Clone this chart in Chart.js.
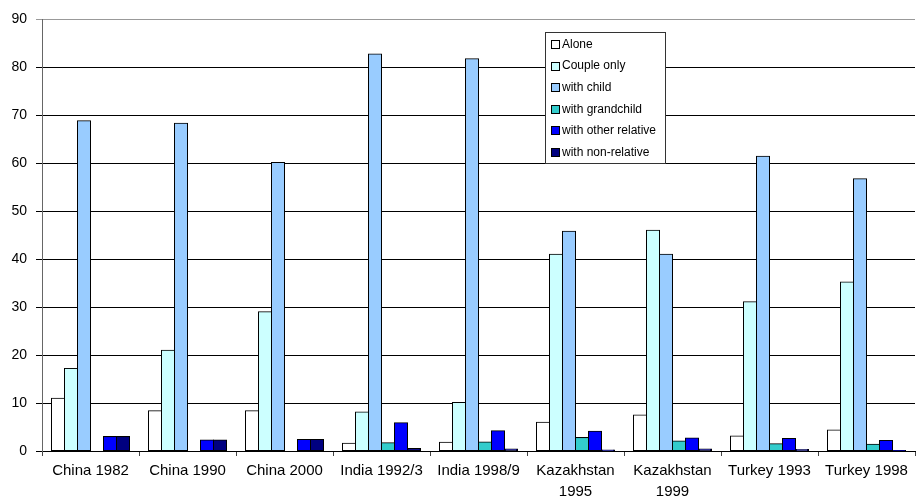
<!DOCTYPE html>
<html>
<head>
<meta charset="utf-8">
<script src="https://cdn.jsdelivr.net/npm/chart.js@4/dist/chart.umd.min.js"></script>
<style>
  html, body { margin: 0; padding: 0; background: #fff; }
  #wrap { width: 916px; height: 502px; position: relative; }
</style>
</head>
<body>
<div id="wrap"><canvas id="c"></canvas></div>
<script>
// Living arrangements of older people (%), by country and survey year
const categories = [
  'China 1982', 'China 1990', 'China 2000', 'India 1992/3', 'India 1998/9',
  ['Kazakhstan', '1995'], ['Kazakhstan', '1999'], 'Turkey 1993', 'Turkey 1998'
];
const seriesNames = ['Alone', 'Couple only', 'with child', 'with grandchild', 'with other relative', 'with non-relative'];
const alone          = [11.0,  8.4,  8.4,  1.6,  1.8,  6.0,  7.5,  3.1,  4.4];
const coupleOnly     = [17.2, 21.0, 29.0,  8.1, 10.1, 41.0, 46.0, 31.1, 35.2];
const withChild      = [68.8, 68.3, 60.1, 82.7, 81.7, 45.8, 41.0, 61.4, 56.7];
const withGrandchild = [ 0.0,  0.0,  0.0,  1.7,  1.9,  2.8,  2.1,  1.5,  1.4];
const withOther      = [ 3.0,  2.3,  2.4,  5.9,  4.2,  4.1,  2.7,  2.6,  2.2];
const withNonRel     = [ 3.0,  2.3,  2.4,  0.5,  0.4,  0.2,  0.4,  0.3,  0.1];
const yTicks = [0, 10, 20, 30, 40, 50, 60, 70, 80, 90];

const colors = ['#FFFFFF', '#CCFFFF', '#99CCFF', '#33CCCC', '#0000FF', '#000080'];
const values = [alone, coupleOnly, withChild, withGrandchild, withOther, withNonRel];

const FONT = '"Liberation Sans", Arial, sans-serif';

// Boxed legend drawn inside the plot area
const boxLegend = {
  id: 'boxLegend',
  afterDraw(chart) {
    const ctx = chart.ctx;
    const x = 545, y = 32, w = 120, h = 131;
    ctx.save();
    ctx.fillStyle = '#fff';
    ctx.fillRect(x, y, w, h);
    ctx.strokeStyle = '#333';
    ctx.lineWidth = 1;
    ctx.strokeRect(x + 0.5, y + 0.5, w, h);
    ctx.font = '12px ' + FONT;
    ctx.textBaseline = 'middle';
    chart.data.datasets.forEach((ds, i) => {
      const cy = y + 12 + i * 21.6;
      ctx.fillStyle = ds.backgroundColor;
      ctx.fillRect(x + 6, Math.round(cy - 4), 8, 8);
      ctx.strokeStyle = '#000';
      ctx.strokeRect(x + 6.5, Math.round(cy - 4) + 0.5, 8, 8);
      ctx.fillStyle = '#000';
      ctx.fillText(ds.label, x + 17, cy + 0.5);
    });
    ctx.restore();
  }
};

new Chart(document.getElementById('c'), {
  type: 'bar',
  data: {
    labels: categories,
    datasets: seriesNames.map((name, i) => ({
      label: name,
      data: values[i],
      backgroundColor: colors[i],
      borderColor: '#000',
      borderWidth: 1,
      borderSkipped: false,
      inflateAmount: 0.5,
      barThickness: 13
    }))
  },
  options: {
    responsive: true,
    maintainAspectRatio: false,
    animation: false,
    layout: { padding: { top: 19, left: 10, right: 1, bottom: 0 } },
    plugins: {
      legend: { display: false },
      tooltip: { enabled: false }
    },
    scales: {
      x: {
        offset: true,
        afterFit(axis) { axis.height = 51; },
        grid: {
          offset: true,
          drawOnChartArea: false,
          drawTicks: true,
          tickLength: 5,
          color: '#444'
        },
        border: { color: '#000' },
        ticks: {
          color: '#000',
          font: { family: FONT, size: 15, lineHeight: 1.4 },
          maxRotation: 0,
          autoSkip: false,
          padding: 4
        }
      },
      y: {
        min: 0,
        max: 90,
        afterFit(axis) { axis.width = 32; },
        afterBuildTicks(axis) { axis.ticks = yTicks.map(v => ({ value: v })); },
        grid: {
          color: ctx => (ctx.tick && ctx.tick.value === 90 ? '#999' : '#000'),
          tickLength: 6,
          lineWidth: 1
        },
        border: { color: '#666' },
        ticks: {
          color: '#000',
          font: { family: FONT, size: 14 },
          padding: 9
        }
      }
    }
  },
  plugins: [boxLegend]
});
</script>
</body>
</html>
